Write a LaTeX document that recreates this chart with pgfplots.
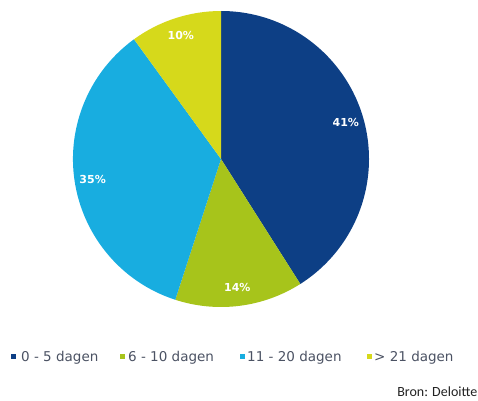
\documentclass[border=0pt]{standalone}
\usepackage{pgfplots}
\pgfplotsset{compat=1.18}
\usepackage{pgfplotstable}
\usepackage{fontspec}
\setmainfont{DejaVu Sans}
\newfontfamily\bronfont{Carlito}

\definecolor{pieC0}{HTML}{0D3F85}
\definecolor{pieC1}{HTML}{A7C41B}
\definecolor{pieC2}{HTML}{18ADE0}
\definecolor{pieC3}{HTML}{D6D91B}
\definecolor{legtext}{HTML}{4B5263}
\definecolor{brontext}{HTML}{222222}

\pgfplotstableread[col sep=comma]{
label,value
0 - 5 dagen,41
6 - 10 dagen,14
11 - 20 dagen,35
> 21 dagen,10
}\piedata

\tikzset{
  pielab/.style={text=white, inner sep=0pt, font=\bfseries\fontsize{11}{13}\selectfont},
  legtxt/.style={text=legtext, inner sep=0pt, anchor=base west, font=\fontsize{13.5}{16}\selectfont},
}

\begin{document}
\begin{tikzpicture}
% cumulative angles from the data (start at 90 deg, clockwise)
\xdef\pcum{90}
\foreach \i in {0,...,3}{%
  \pgfplotstablegetelem{\i}{value}\of\piedata
  \let\v\pgfplotsretval
  \pgfmathsetmacro\s{\pcum}%
  \pgfmathsetmacro\e{\pcum-3.6*\v}%
  \pgfmathsetmacro\m{(\s+\e)/2}%
  \expandafter\xdef\csname pieS\i\endcsname{\s}%
  \expandafter\xdef\csname pieE\i\endcsname{\e}%
  \expandafter\xdef\csname pieM\i\endcsname{\m}%
  \expandafter\xdef\csname pieV\i\endcsname{\v}%
  \pgfplotstablegetelem{\i}{label}\of\piedata
  \global\expandafter\let\csname pieL\i\endcsname\pgfplotsretval
  \xdef\pcum{\e}%
}
\foreach \i/\mx/\tx in {0/13.5/21,1/122/128,2/242.5/247,3/369/374}{%
  \expandafter\xdef\csname legMX\i\endcsname{\mx}%
  \expandafter\xdef\csname legTX\i\endcsname{\tx}%
}
\begin{axis}[
  x=1pt, y=1pt,
  xmin=0, xmax=478, ymin=0, ymax=400,
  enlargelimits=false,
  hide axis, clip=false,
]
\path (axis cs:0,0) rectangle (axis cs:478,400);
\pgfplotsinvokeforeach{0,...,3}{%
  \edef\cmd{\noexpand\fill[pieC#1] (axis cs:221,241) -- ++(\csname pieS#1\endcsname:148pt) arc[start angle=\csname pieS#1\endcsname, end angle=\csname pieE#1\endcsname, radius=148pt] -- cycle;}\cmd
}
\pgfplotsinvokeforeach{0,...,3}{%
  \edef\cmd{\noexpand\path (axis cs:221,241) ++(\csname pieM#1\endcsname:130pt) node[pielab] {\csname pieV#1\endcsname\noexpand\%};}\cmd
}
\pgfplotsinvokeforeach{0,...,3}{%
  \edef\cmd{\noexpand\fill[pieC#1] (axis cs:\csname legMX#1\endcsname,44) ++(-2.5pt,-2.5pt) rectangle ++(5pt,5pt);
  \noexpand\node[legtxt] at (axis cs:\csname legTX#1\endcsname,38.7) {\expandafter\noexpand\csname pieL#1\endcsname};}\cmd
}
\node[anchor=base east, inner sep=0pt, text=brontext, font=\bronfont\fontsize{14}{16}\selectfont] at (axis cs:477.5,3.3) {Bron: Deloitte};
\end{axis}
\end{tikzpicture}
\end{document}
